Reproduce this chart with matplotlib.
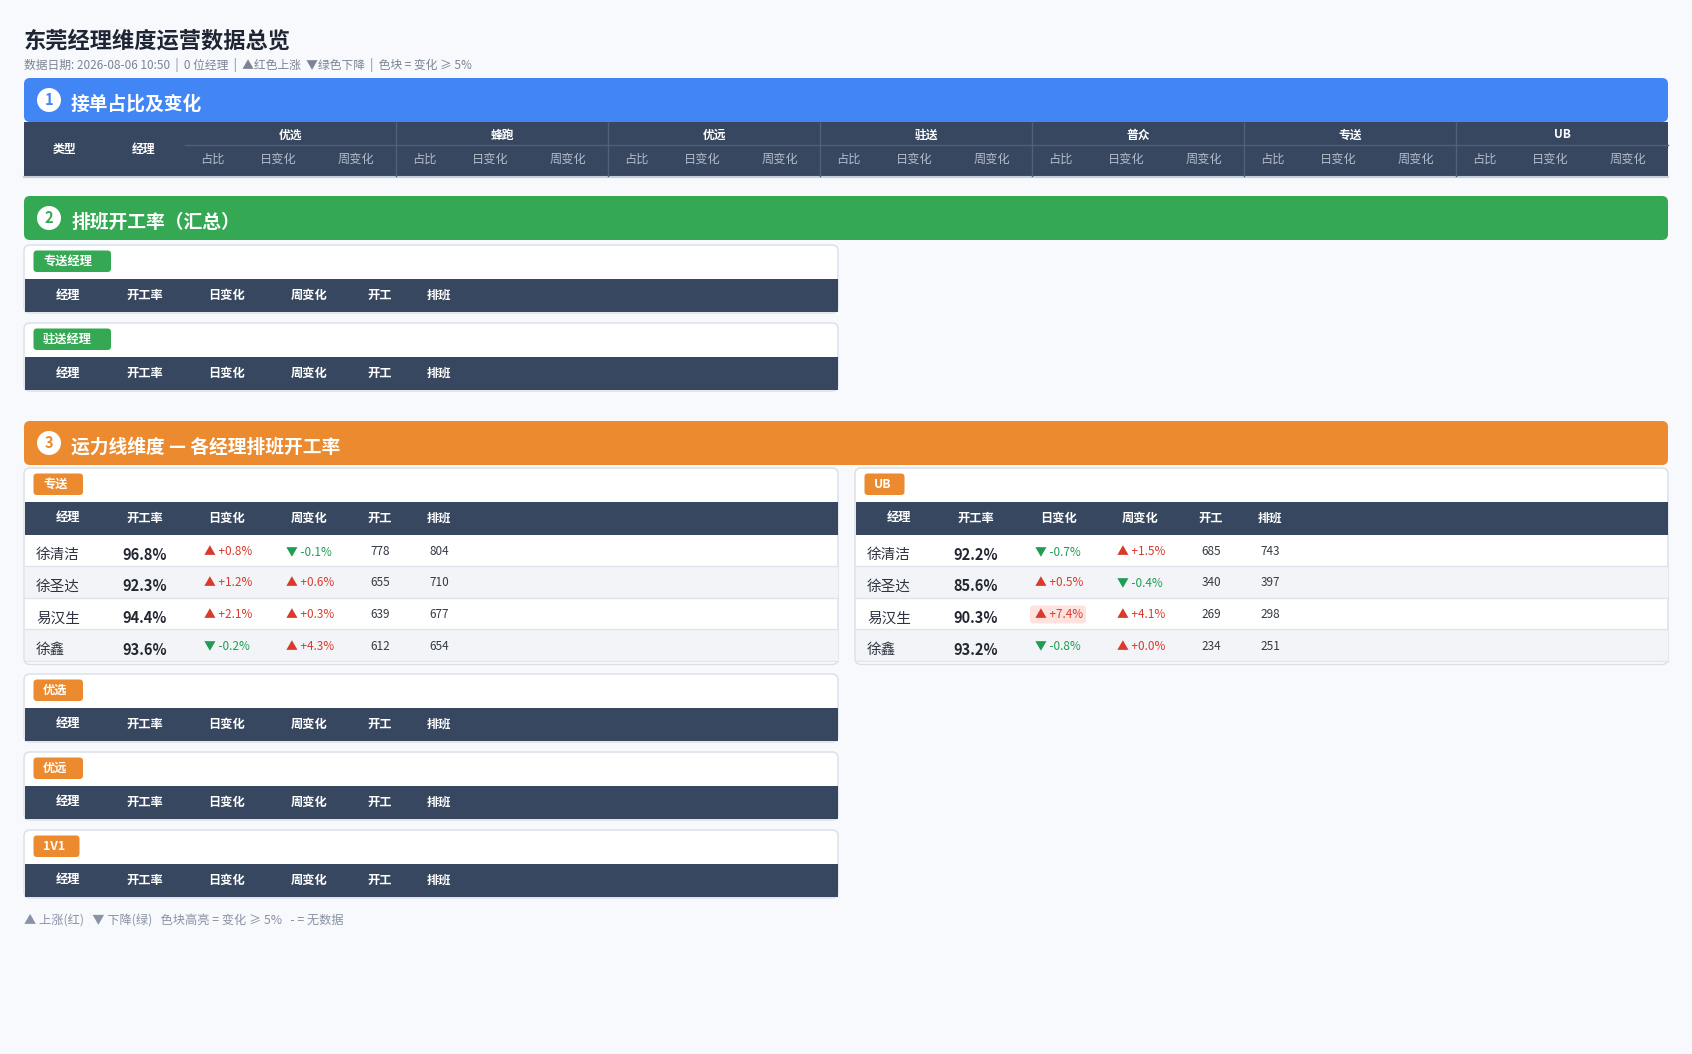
import matplotlib
matplotlib.use("Agg")
import matplotlib.pyplot as plt
from matplotlib.patches import FancyBboxPatch, Rectangle, Circle

plt.rcParams['font.family'] = ['Noto Sans CJK SC', 'DejaVu Sans']

# ---------------- data ----------------
title = "东莞经理维度运营数据总览"
subtitle = "数据日期: 2026-08-06 10:50  |  0 位经理  |  ▲红色上涨  ▼绿色下降  |  色块 = 变化 ≥ 5%"
footer = "▲ 上涨(红)   ▼ 下降(绿)   色块高亮 = 变化 ≥ 5%   - = 无数据"

sec_titles = ["接单占比及变化", "排班开工率（汇总）", "运力线维度 — 各经理排班开工率"]
share_groups = ["优选", "蜂跑", "优远", "驻送", "普众", "专送", "UB"]
share_sub = ["占比", "日变化", "周变化"]
summary_cards = ["专送经理", "驻送经理"]
table_cols = ["经理", "开工率", "日变化", "周变化", "开工", "排班"]

managers = ["徐清洁", "徐圣达", "易汉生", "徐鑫"]
zs_rate = [96.8, 92.3, 94.4, 93.6]
zs_day = [0.8, 1.2, 2.1, -0.2]
zs_week = [-0.1, 0.6, 0.3, 4.3]
zs_open = [778, 655, 639, 612]
zs_sched = [804, 710, 677, 654]

ub_rate = [92.2, 85.6, 90.3, 93.2]
ub_day = [-0.7, 0.5, 7.4, -0.8]
ub_week = [1.5, -0.4, 4.1, 0.0]
ub_open = [685, 340, 269, 234]
ub_sched = [743, 397, 298, 251]

empty_lines = ["优选", "优远", "1V1"]

# ---------------- style ----------------
W, H = 1692, 1054
BG = "#f7f9fc"
NAVY = "#37475f"
BLUE = "#4286f5"
GREEN = "#34a853"
ORANGE = "#eb8a2f"
BORDER = "#d9dee8"
ALT = "#f3f4f8"
RED = "#d93a2b"
DGREEN = "#1f9d55"

fig = plt.figure(figsize=(W / 100, H / 100), dpi=100, facecolor=BG)
ax = fig.add_axes([0, 0, 1, 1])
ax.set_xlim(0, W)
ax.set_ylim(H, 0)
ax.axis("off")
ax.set_facecolor(BG)


def box(x, y, w, h, fc, r=0, ec="none", lw=0, z=1):
    if r > 0:
        p = FancyBboxPatch((x, y), w, h, boxstyle=f"round,pad=0,rounding_size={r}",
                           fc=fc, ec=ec, lw=lw, zorder=z)
    else:
        p = Rectangle((x, y), w, h, fc=fc, ec=ec, lw=lw, zorder=z)
    ax.add_patch(p)


def txt(x, y, s, size=9, color="#333333", weight="normal", ha="left", z=5):
    ax.text(x, y, s, fontsize=size, color=color, fontweight=weight, ha=ha, va="center", zorder=z)


# ---------------- title ----------------
txt(24, 41, title, size=16, color="#1f2633", weight="bold")
txt(24, 65.5, subtitle, size=8.5, color="#7b8494")

LEFT, RIGHT = 24, 1668


def section(y, color, num, label):
    box(LEFT, y, RIGHT - LEFT, 44, color, r=6, z=2)
    ax.add_patch(Circle((49, y + 22), 12, fc="white", ec="none", zorder=3))
    txt(49, y + 22, str(num), size=10.5, color=color, weight="bold", ha="center", z=4)
    txt(71, y + 26, label, size=13.5, color="white", weight="bold", z=4)


# ---------------- section 1 ----------------
section(78, BLUE, 1, sec_titles[0])
ty0, ty1, ty2 = 122, 145, 176
box(LEFT, ty0, RIGHT - LEFT, ty2 - ty0, NAVY, z=3)
ax.plot([LEFT, RIGHT], [ty2 + 0.8, ty2 + 0.8], color="#c7cedb", lw=1.5, zorder=3)
txt(64, 149, "类型", size=8.5, color="white", weight="bold", ha="center")
txt(143.5, 149, "经理", size=8.5, color="#ffffff", weight="bold", ha="center")
gx0, gw = 184.5, (RIGHT - 184.5) / len(share_groups)
ax.plot([gx0, RIGHT], [ty1, ty1], color="#506078", lw=1, zorder=4)
for i, g in enumerate(share_groups):
    gx = gx0 + i * gw
    if i > 0:
        ax.plot([gx, gx], [ty0, ty2], color="#506078", lw=1, zorder=4)
    txt(gx + gw / 2, 135, g, size=8.5, color="white", weight="bold", ha="center")
    for off, s in zip([28, 94, 171.5], share_sub):
        txt(gx + off, 159.5, s, size=8.8, color="#b3bccb", ha="center")

# ---------------- cards ----------------
hdr_x = [44, 121, 203, 285, 356, 415]


def card(x, y, w, badge, bcolor, bw, rows=None):
    nrows = 0 if rows is None else len(rows[0])
    row_h = 31.6
    h = 68 + nrows * row_h + (2 if nrows else 0)
    box(x, y, w, h, "white", r=6, ec=BORDER, lw=1, z=2)
    box(x + 9.5, y + 5.5, bw, 21.5, bcolor, r=3.5, z=3)
    txt(x + 19, y + 16, badge, size=8.8, color="white", weight="bold", z=4)
    box(x + 0.5, y + 33.5, w - 1, 33, NAVY, z=3)
    for cx, c in zip(hdr_x, table_cols):
        txt(x + cx, y + 50, c, size=8.8, color="white", weight="bold", ha="center")
    if nrows:
        rate, day, week, op, sc = rows
        for i in range(nrows):
            ry = y + 66.5 + i * row_h
            if i % 2 == 1:
                box(x + 0.5, ry, w - 1, row_h, ALT, z=3)
            ax.plot([x + 0.5, x + w - 0.5], [ry + row_h, ry + row_h], color="#e1e4ec", lw=1, zorder=4)
            cy = ry + row_h / 2 + 1
            txt(x + 12, cy + 4, managers[i], size=10.5, color="#2d3440")
            txt(x + 121, cy + 3.5, f"{rate[i]:.1f}%", size=10.5, color="#222831", weight="bold", ha="center")
            for cx, v in ((180, day[i]), (262, week[i])):
                col = RED if v >= 0 else DGREEN
                s = ("▲ +" if v >= 0 else "▼ ") + f"{v:.1f}%"
                if abs(v) >= 5:
                    box(x + cx - 5, cy - 9, 56, 18, "#fde2df", r=3, z=4)
                txt(x + cx, cy, s, size=8.5, color=col, z=6)
            txt(x + 356, cy, str(op[i]), size=8.5, color="#333a44", ha="center")
            txt(x + 415, cy, str(sc[i]), size=8.5, color="#333a44", ha="center")
    return h


section(196, GREEN, 2, sec_titles[1])
card(LEFT, 245, 814, summary_cards[0], GREEN, 77.5)
card(LEFT, 323, 814, summary_cards[1], GREEN, 77.5)

section(421, ORANGE, 3, sec_titles[2])
card(LEFT, 468, 814, "专送", ORANGE, 49.5,
     rows=(zs_rate, zs_day, zs_week, zs_open, zs_sched))
card(855, 468, 813, "UB", ORANGE, 40,
     rows=(ub_rate, ub_day, ub_week, ub_open, ub_sched))

for top, name in zip([674, 752, 830], empty_lines):
    card(LEFT, top, 814, name, ORANGE, 49.5 if name != "1V1" else 46)

txt(24, 921, footer, size=8.8, color="#8a93a3")

fig.savefig("out.png", dpi=100, facecolor=BG)
